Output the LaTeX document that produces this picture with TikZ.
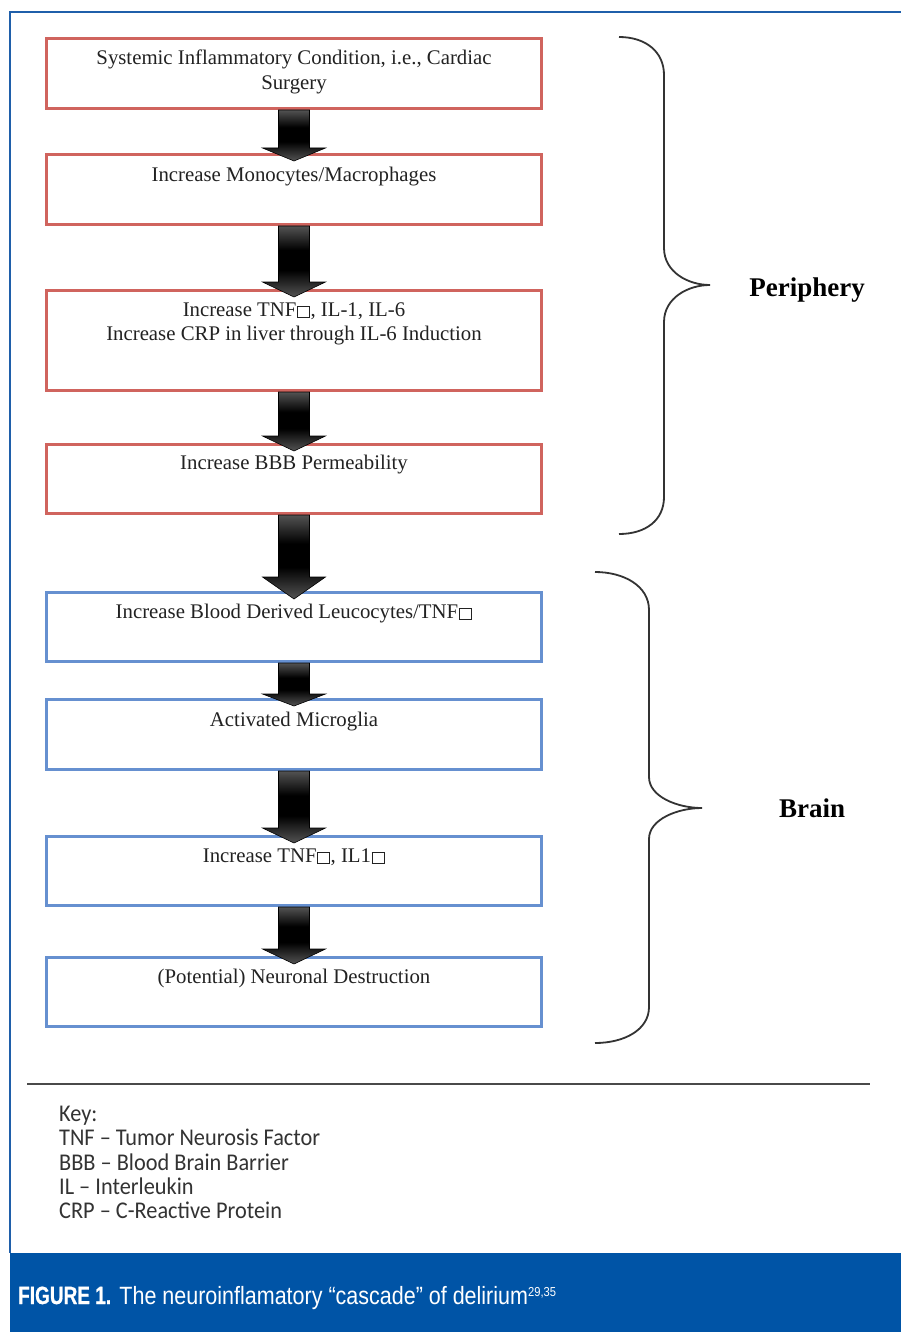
\documentclass[tikz,border=0pt]{standalone}
\usepackage{fontspec}
\usepackage{graphicx}
\setmainfont{Liberation Serif}
\newfontfamily\keyfont[FakeStretch=0.93]{Carlito}
\newfontfamily\capreg[FakeStretch=0.86]{Liberation Sans}
\newfontfamily\capbold[FakeStretch=0.76,FakeBold=0.6]{Liberation Sans}
\usetikzlibrary{calc}
\definecolor{boxred}{HTML}{D0645E}
\definecolor{boxblue}{HTML}{6690D0}
\definecolor{frameblue}{HTML}{1F5FAA}
\definecolor{capblue}{HTML}{0054A6}
\definecolor{inkgray}{HTML}{222222}
\definecolor{bracegray}{HTML}{333333}
\definecolor{keygray}{HTML}{333333}
\definecolor{rulegray}{HTML}{4A4A4A}
\pgfdeclareverticalshading{fatarrowshade}{100bp}{%
  color(0bp)=(black!60); color(22bp)=(black!62); color(44bp)=(black);
  color(58bp)=(black); color(80bp)=(black!58); color(100bp)=(black!52)}
\newcommand\missingglyph{\kern0.6pt{\fboxsep=0pt\fboxrule=1pt\fbox{\rule{0pt}{0.48em}\hspace{0.52em}}}\kern0.6pt}
\newcommand\fatarrow[3]{%
  \path[arrowshade]
    ($(#1.south)+(-15.5,0)$) -- ($(#1.south)+(15.5,0)$) --
    ($(#2.north)+(15.5,8-#3)$) -- ($(#2.north)+(31.5,8-#3)$) --
    ($(#2.north)+(0,8)$) --
    ($(#2.north)+(-31.5,8-#3)$) -- ($(#2.north)+(-15.5,8-#3)$) -- cycle;}
\tikzset{
  stepbox/.style={draw, line width=3pt, minimum width=495pt, inner sep=0pt},
  redbox/.style={stepbox, draw=boxred},
  bluebox/.style={stepbox, draw=boxblue},
  boxtext/.style={anchor=base, inner sep=0pt, text=inkgray, font=\fontsize{20.8}{25}\selectfont},
  keytext/.style={anchor=base west, inner sep=0pt, text=keygray, font=\keyfont\fontsize{24}{24}\selectfont},
  sidelabel/.style={anchor=base, inner sep=0pt, text=black, font=\bfseries\fontsize{27}{30}\selectfont},
  bracepath/.style={draw=bracegray, line width=1.8pt},
  arrowshade/.style={draw=black, line width=0.6pt, shading=fatarrowshade},
}
\begin{document}
\begin{tikzpicture}[x=1pt,y=-1pt]
\useasboundingbox (0,0) rectangle (901,1332);
\fill[white] (0,0) rectangle (901,1332);
% frame
\draw[frameblue, line width=1.5pt] (901,12) -- (10,12) -- (10,1253);
\fill[capblue] (10,1253) rectangle (901,1332);

% boxes
\node[redbox, minimum height=70pt] (b1) at (294,73.5) {};
\node[redbox, minimum height=70pt] (b2) at (294,189.5) {};
\node[redbox, minimum height=100pt] (b3) at (294,340.5) {};
\node[redbox, minimum height=69pt] (b4) at (294,479) {};
\node[bluebox, minimum height=69pt] (b5) at (294,627) {};
\node[bluebox, minimum height=70pt] (b6) at (294,734.5) {};
\node[bluebox, minimum height=69pt] (b7) at (294,871) {};
\node[bluebox, minimum height=69pt] (b8) at (294,992) {};

% texts
\node[boxtext] (t1a) at (294,64.5) {Systemic Inflammatory Condition, i.e., Cardiac};
\node[boxtext] (t1b) at (294,89.5) {Surgery};
\node[boxtext] (t2) at (294,181.5) {Increase Monocytes/Macrophages};
\node[boxtext] (t3a) at (294,316.5) {Increase TNF\missingglyph, IL-1, IL-6};
\node[boxtext] (t3b) at (294,340.5) {Increase CRP in liver through IL-6 Induction};
\node[boxtext] (t4) at (294,469.5) {Increase BBB Permeability};
\node[boxtext] (t5) at (294,618.5) {Increase Blood Derived Leucocytes/TNF\missingglyph};
\node[boxtext] (t6) at (294,726.5) {Activated Microglia};
\node[boxtext] (t7) at (294,862.5) {Increase TNF\missingglyph, IL1\missingglyph};
\node[boxtext] (t8) at (294,983.5) {(Potential) Neuronal Destruction};

% arrows
\fatarrow{b1}{b2}{13}
\fatarrow{b2}{b3}{15}
\fatarrow{b3}{b4}{15}
\fatarrow{b4}{b5}{22}
\fatarrow{b5}{b6}{12}
\fatarrow{b6}{b7}{15}
\fatarrow{b7}{b8}{15}

% braces
\draw[bracepath] (619,37) .. controls (646,37) and (664,52) .. (664,75)
  -- (664,248) .. controls (664,272) and (688,285) .. (710,285)
  .. controls (688,285) and (664,298) .. (664,322)
  -- (664,497) .. controls (664,520) and (646,534) .. (619,534);
\node[sidelabel] (periph) at (807,296) {Periphery};

\draw[bracepath] (595,572) .. controls (624,572) and (649,586) .. (649,610)
  -- (649,777) .. controls (649,797) and (678,808) .. (702,808)
  .. controls (678,808) and (649,819) .. (649,839)
  -- (649,1007) .. controls (649,1030) and (624,1043) .. (595,1043);
\node[sidelabel] (brain) at (812,817) {Brain};

% separator
\coordinate (sepL) at (27,1084);
\coordinate (sepR) at (870,1084);
\draw[rulegray, line width=2pt] (sepL) -- (sepR);

% key
\node[keytext] (k0) at (59,1121.5) {Key:};
\node[keytext] (k1) at (59,1145.5) {TNF – Tumor Neurosis Factor};
\node[keytext] (k2) at (59,1170.5) {BBB – Blood Brain Barrier};
\node[keytext] (k3) at (59,1194.5) {IL – Interleukin};
\node[keytext] (k4) at (59,1218.5) {CRP – C-Reactive Protein};

% caption
\node[anchor=base west, inner sep=0pt, text=white, font=\fontsize{25}{28}\selectfont] (cap) at (18,1304)
  {{\capbold\bfseries FIGURE 1.} {\capreg The neuroinflamatory “cascade” of delirium\raisebox{8pt}{\fontsize{13}{13}\selectfont 29,35}}};
\end{tikzpicture}
\end{document}
